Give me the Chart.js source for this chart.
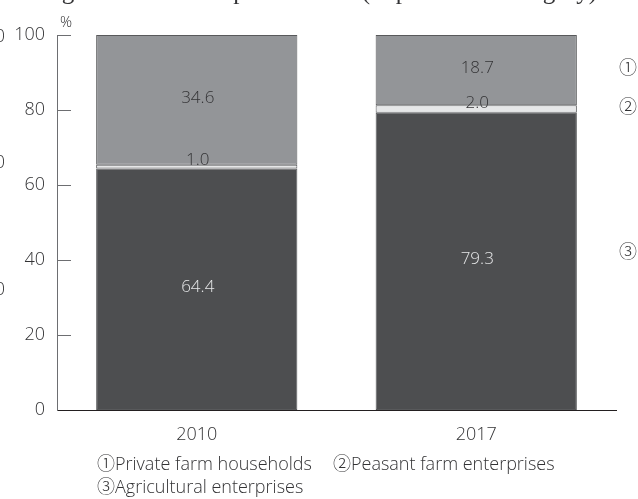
<!DOCTYPE html>
<html>
<head>
<meta charset="utf-8">
<script src="https://cdn.jsdelivr.net/npm/chart.js@4.4.1/dist/chart.umd.min.js"></script>
<style>
    html, body { margin: 0; padding: 0; background: #fff; }
    #chart-wrap { width: 638px; height: 499px; position: relative; }
</style>
</head>
<body>
<div id="chart-wrap"><canvas id="farm-chart" width="638" height="499"></canvas></div>
<script>
// Data
const categories = ['2010', '2017'];
const agricultural = [64.4, 79.3];   // ③ bottom
const peasant = [1.0, 2.0];          // ② middle
const privateFarm = [34.6, 18.7];    // ① top
const yTicks = [0, 20, 40, 60, 80, 100];
const seriesNames = ['Agricultural enterprises', 'Peasant farm enterprises', 'Private farm households'];
const seriesMarks = ['③', '②', '①'];
const titleText = 'Shifting structure of output of farms (in percent of category)';

const FONT = "'Open Sans', 'Noto Sans CJK JP', sans-serif";
const TEXT = '#333335';

// Colors, bottom to top
const fills = ['#4d4e50', '#e6e7e8', '#939598'];
const labelColors = ['#e6e7e8', TEXT, TEXT];

const decor = {
    id: 'decor',
    afterDraw(chart) {
        const ctx = chart.ctx;
        const ys = chart.scales.y;
        const area = chart.chartArea;
        ctx.save();

        // inward tick marks on the y axis
        ctx.strokeStyle = '#6d6e71';
        ctx.lineWidth = 1;
        yTicks.forEach(v => {
            if (v === 0) return;
            const y = Math.round(ys.getPixelForValue(v)) + 0.5;
            ctx.beginPath();
            ctx.moveTo(area.left, y);
            ctx.lineTo(area.left + 14, y);
            ctx.stroke();
        });

        // unit
        ctx.fillStyle = TEXT;
        ctx.font = '300 15px ' + FONT;
        ctx.textAlign = 'center';
        ctx.textBaseline = 'middle';
        ctx.fillText('%', 66, 23);

        // value labels in the segments
        ctx.font = '300 17px ' + FONT;
        chart.data.datasets.forEach((ds, di) => {
            const meta = chart.getDatasetMeta(di);
            meta.data.forEach((bar, i) => {
                const v = ds.data[i];
                const mid = (bar.y + bar.base) / 2;
                const lift = v < 5 ? 6 : 2;
                ctx.fillStyle = labelColors[di];
                ctx.fillText(v.toFixed(1), bar.x + 1, mid - lift);
            });
        });

        // circled markers right of the last bar
        const last = categories.length - 1;
        ctx.fillStyle = TEXT;
        ctx.font = '300 18px ' + FONT;
        chart.data.datasets.forEach((ds, di) => {
            const bar = chart.getDatasetMeta(di).data[last];
            const mid = (bar.y + bar.base) / 2;
            ctx.fillText(seriesMarks[di], 628, mid - (di === 0 ? 8 : 1));
        });

        // legend text
        ctx.textAlign = 'left';
        ctx.font = '300 18px ' + FONT;
        ctx.fillText(seriesMarks[2] + seriesNames[2], 97, 465);
        ctx.fillText(seriesMarks[1] + seriesNames[1], 333, 465);
        ctx.fillText(seriesMarks[0] + seriesNames[0], 97, 488);

        // title, cut off at the top of the picture
        ctx.font = '25px "Liberation Serif", serif';
        ctx.textBaseline = 'alphabetic';
        ctx.textAlign = 'right';
        ctx.fillText(titleText, 597, -1);

        // edge of the neighbouring panel
        ctx.font = '300 18px ' + FONT;
        ctx.textBaseline = 'middle';
        ctx.fillText('100', 5, 37);
        ctx.fillText('50', 5, 163);
        ctx.fillText('0', 5, 290);

        ctx.restore();
    }
};

const ctx = document.getElementById('farm-chart').getContext('2d');
const chart = new Chart(ctx, {
    type: 'bar',
    data: {
        labels: categories,
        datasets: [agricultural, peasant, privateFarm].map((arr, i) => ({
            label: seriesNames[i],
            data: arr,
            backgroundColor: fills[i],
            borderColor: '#58595b',
            borderWidth: 1,
            borderSkipped: false,
            barPercentage: 0.72,
            categoryPercentage: 1
        }))
    },
    options: {
        responsive: false,
        animation: false,
        layout: { padding: { top: 35, right: 22, left: 0, bottom: 59 } },
        plugins: {
            legend: { display: false },
            tooltip: { enabled: false }
        },
        scales: {
            x: {
                stacked: true,
                grid: { display: false, drawTicks: false },
                border: { color: '#231f20', width: 1 },
                ticks: { color: TEXT, font: { family: FONT, size: 18, weight: '300' }, padding: 14 },
                afterFit: s => { s.height = 30; }
            },
            y: {
                stacked: true,
                min: 0,
                max: 100,
                grid: { display: false, drawTicks: false },
                border: { color: '#6d6e71', width: 1 },
                ticks: { stepSize: 20, color: TEXT, font: { family: FONT, size: 18, weight: '300' }, padding: 12 },
                afterFit: s => { s.width = 57; }
            }
        }
    },
    plugins: [decor]
});
</script>
</body>
</html>
